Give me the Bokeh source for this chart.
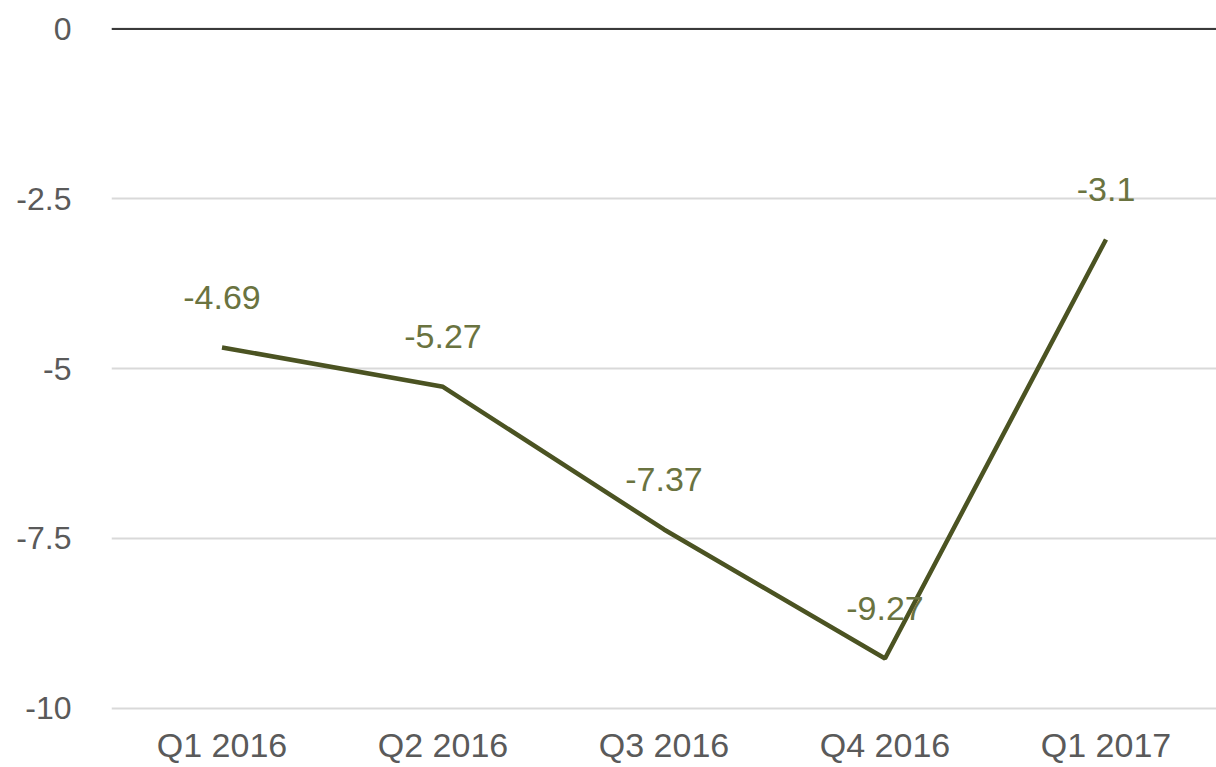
from bokeh.plotting import figure
from bokeh.models import ColumnDataSource, Span, FixedTicker, LabelSet
from bokeh.core.properties import value
from bokeh.embed import file_html
from bokeh.resources import INLINE

quarters = ["Q1 2016", "Q2 2016", "Q3 2016", "Q4 2016", "Q1 2017"]
values = [-4.69, -5.27, -7.37, -9.27, -3.1]
value_labels = ["-4.69", "-5.27", "-7.37", "-9.27", "-3.1"]
y_ticks = [-10, -7.5, -5, -2.5, 0]
y_tick_labels = {-10: "-10", -7.5: "-7.5", -5: "-5", -2.5: "-2.5", 0: "0"}

src = ColumnDataSource(dict(q=quarters, v=values, lab=value_labels))

p = figure(x_range=quarters, y_range=(-10.05, 0.05),
           frame_width=1105, frame_height=686,
           output_backend="svg", toolbar_location=None,
           min_border_top=25, min_border_right=0, min_border_left=111, min_border_bottom=48)
p.outline_line_color = None
p.background_fill_color = "white"
p.border_fill_color = "white"

p.line("q", "v", source=src, line_color="#4b5322", line_width=4.5)

labels = LabelSet(x="q", y="v", text="lab", source=src, y_offset=50,
                  text_align="center", text_baseline="middle",
                  text_color="#6a7340", text_font_size="34px",
                  text_font=value("Liberation Sans"))
p.add_layout(labels)

p.add_layout(Span(location=0, dimension="width", line_color="#3a3a3a", line_width=2))

p.yaxis.ticker = FixedTicker(ticks=y_ticks)
p.yaxis.major_label_overrides = y_tick_labels
p.yaxis.axis_line_color = None
p.yaxis.major_tick_line_color = None
p.yaxis.minor_tick_line_color = None
p.yaxis.major_label_text_font = "Liberation Sans"
p.yaxis.major_label_text_font_size = "32px"
p.yaxis.major_label_text_color = "#5a5a5a"
p.yaxis.major_label_standoff = 34

p.xaxis.axis_line_color = None
p.xaxis.major_tick_line_color = None
p.xaxis.minor_tick_line_color = None
p.xaxis.major_label_text_font = "Liberation Sans"
p.xaxis.major_label_text_font_size = "34px"
p.xaxis.major_label_text_color = "#5a5a5a"
p.xaxis.major_label_standoff = 8

p.xgrid.grid_line_color = None
p.ygrid.grid_line_color = "#d9d9d9"
p.ygrid.grid_line_width = 2

open("out.html", "w").write(file_html(p, INLINE))
